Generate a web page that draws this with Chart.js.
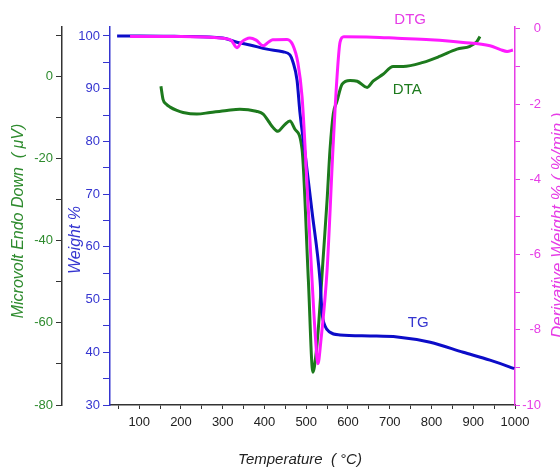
<!DOCTYPE html>
<html>
<head>
<meta charset="utf-8">
<script src="https://cdn.jsdelivr.net/npm/chart.js@4.4.1/dist/chart.umd.min.js"></script>
<style>
  html, body { margin: 0; padding: 0; background: #fff; }
</style>
</head>
<body>
<canvas id="chart" width="560" height="470"></canvas>
<script>
// TG: weight loss curve (Weight %)
var tgTemp   = [47, 100, 200, 300, 334, 365, 406, 444, 461, 468, 478, 485, 497, 514, 533, 538, 545, 557, 581, 653, 718, 797, 876, 940, 988, 998];
var tgWeight = [100, 100, 99.9, 99.6, 98.8, 98.3, 97.5, 97.0, 96.4, 95.1, 91.6, 85.4, 77.8, 66.6, 53.7, 47.4, 45.0, 43.8, 43.3, 43.1, 42.9, 41.9, 40.0, 38.5, 37.2, 36.9];

// DTG: derivative weight (%/min)
var dtgTemp = [78, 200, 300, 320, 334, 345, 365, 380, 397, 410, 420, 454, 468, 480, 490, 497, 514, 522, 528, 535, 550, 564, 573, 581, 590, 660, 718, 797, 876, 940, 965, 981, 995];
var dtgRate = [-0.2, -0.2, -0.25, -0.3, -0.5, -0.35, -0.24, -0.3, -0.45, -0.35, -0.29, -0.28, -0.43, -0.9, -1.8, -3.1, -6.7, -8.2, -8.9, -8.3, -6.4, -3.2, -1.4, -0.35, -0.21, -0.22, -0.25, -0.29, -0.36, -0.45, -0.55, -0.6, -0.56];

// DTA: microvolt signal
var dtaTemp   = [152, 157, 165, 174, 190, 205, 238, 270, 310, 341, 380, 397, 410, 420, 432, 448, 461, 473, 490, 505, 516, 523, 530, 540, 550, 557, 565, 573, 586, 605, 622, 646, 660, 684, 708, 732, 780, 821, 861, 892, 909, 916];
var dtaSignal = [-2.4, -5.6, -6.8, -7.5, -8.3, -8.8, -9.2, -8.8, -8.3, -8.0, -8.5, -9.2, -11, -12.4, -13.4, -11.8, -10.9, -12.9, -17.8, -49.4, -72, -68, -60, -45, -30, -17.8, -9, -6.3, -1.9, -1.0, -1.2, -2.7, -1.2, 0.5, 2.4, 2.4, 3.4, 4.9, 6.6, 7.3, 8.5, 9.7];

// right axis tick labels
var dtgTickLabels = [0, -2, -4, -6, -8, -10];

// curve names
var seriesLabels = ['DTG', 'DTA', 'TG'];
var labelTemps   = [749, 742, 768];
var labelValues  = [0.24, -3.2, 45.5];

var GREEN = '#1d7a1d', GREEN_TXT = '#2e8b2e';
var BLUE = '#0c0cc8', BLUE_AX = '#3535d0';
var MAG = '#ff1aff', MAG_AX = '#e63de6';
var FONT = "'Liberation Sans', Arial, sans-serif";

Chart.defaults.font.family = FONT;
Chart.defaults.font.size = 13;

function pts(xs, ys) {
  return xs.map(function(x, i) { return {x: x, y: ys[i]}; });
}

function fixedTicks(lo, hi, step) {
  return function(scale) {
    var t = [];
    for (var v = lo; v <= hi + 1e-9; v += step) t.push({value: Math.round(v * 1000) / 1000});
    scale.ticks = t;
  };
}

function drawText(c, txt, x, y, rot, font, color, align) {
  c.save();
  c.translate(x, y);
  c.rotate(rot);
  c.font = font;
  c.fillStyle = color;
  c.textAlign = align || 'center';
  c.textBaseline = 'middle';
  c.fillText(txt, 0, 0);
  c.restore();
}

var textPlugin = {
  id: 'textPlugin',
  afterDraw: function(chart) {
    var c = chart.ctx;
    var s = chart.scales;
    drawText(c, 'Temperature  ( °C)', 300, 460, 0, 'italic 15px ' + FONT, '#222');
    drawText(c, 'Microvolt Endo Down  ( μV)', 19, 221, -Math.PI / 2, 'italic 16px ' + FONT, GREEN_TXT);
    drawText(c, 'Weight %', 76, 240, -Math.PI / 2, 'italic 16px ' + FONT, BLUE_AX);
    drawText(c, 'Derivative Weight % ( %/min )', 558, 338, -Math.PI / 2, 'italic 17px ' + FONT, MAG_AX, 'left');

    // right axis labels, right aligned like the original
    dtgTickLabels.forEach(function(v) {
      drawText(c, String(v), 541, s.yDTG.getPixelForValue(v), 0, '13px ' + FONT, MAG_AX, 'right');
    });

    var axes = [s.yDTG, s.yDTA, s.yTG];
    var cols = [MAG_AX, GREEN, BLUE_AX];
    for (var i = 0; i < seriesLabels.length; i++) {
      drawText(c, seriesLabels[i], s.x.getPixelForValue(labelTemps[i]), axes[i].getPixelForValue(labelValues[i]),
        0, '15px ' + FONT, cols[i]);
    }
  }
};

var ctx = document.getElementById('chart');

var chart = new Chart(ctx, {
  type: 'line',
  data: {
    datasets: [
      {label: 'DTG', data: pts(dtgTemp, dtgRate), yAxisID: 'yDTG', borderColor: MAG, borderWidth: 3, order: 1},
      {label: 'TG', data: pts(tgTemp, tgWeight), yAxisID: 'yTG', borderColor: BLUE, borderWidth: 3, order: 2},
      {label: 'DTA', data: pts(dtaTemp, dtaSignal), yAxisID: 'yDTA', borderColor: GREEN, borderWidth: 3, order: 3}
    ]
  },
  options: {
    responsive: false,
    animation: false,
    layout: {padding: {top: 27}},
    elements: {
      point: {radius: 0},
      line: {cubicInterpolationMode: 'monotone', fill: false}
    },
    plugins: {
      legend: {display: false},
      tooltip: {enabled: false}
    },
    scales: {
      x: {
        type: 'linear',
        position: 'bottom',
        min: 30,
        max: 1000,
        afterBuildTicks: fixedTicks(50, 1000, 50),
        afterFit: function(s) { s.height = 65; },
        ticks: {
          color: '#222',
          padding: 6,
          autoSkip: false,
          maxRotation: 0,
          callback: function(v) { return v % 100 === 0 ? v : ''; }
        },
        grid: {drawOnChartArea: false, tickLength: 4, color: '#333'},
        border: {color: '#333', width: 1.5}
      },
      yTG: {
        type: 'linear',
        position: 'left',
        weight: 0,
        min: 30,
        max: 101.7,
        afterBuildTicks: fixedTicks(30, 100, 5),
        afterFit: function(s) { s.width = 48; },
        ticks: {
          color: BLUE_AX,
          padding: 3,
          callback: function(v) { return v % 10 === 0 ? v : ''; }
        },
        grid: {drawOnChartArea: false, tickLength: 7, color: BLUE_AX},
        border: {color: BLUE_AX, width: 1.5}
      },
      yDTA: {
        type: 'linear',
        position: 'left',
        weight: 1,
        min: -80,
        max: 12,
        afterBuildTicks: fixedTicks(-80, 10, 10),
        afterFit: function(s) { s.width = 62; },
        ticks: {
          color: GREEN_TXT,
          padding: 3,
          callback: function(v) { return v % 20 === 0 ? v : ''; }
        },
        grid: {drawOnChartArea: false, tickLength: 6, color: '#333'},
        border: {color: '#333', width: 1.5}
      },
      yDTG: {
        type: 'linear',
        position: 'right',
        min: -10,
        max: 0.05,
        afterBuildTicks: fixedTicks(-10, 0, 1),
        afterFit: function(s) { s.width = 45; },
        ticks: {display: false},
        grid: {drawOnChartArea: false, tickLength: 5, color: MAG_AX},
        border: {color: MAG_AX, width: 1.5}
      }
    }
  },
  plugins: [textPlugin]
});
</script>
</body>
</html>
